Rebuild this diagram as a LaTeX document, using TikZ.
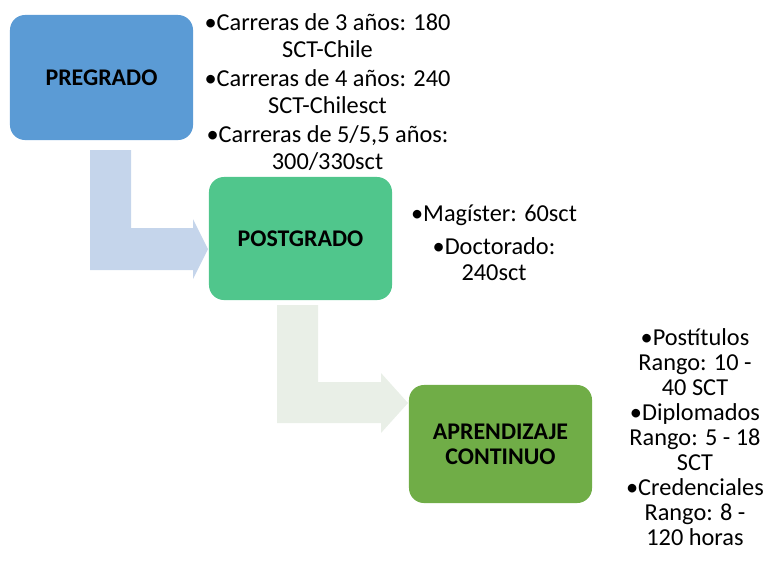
\documentclass[tikz,border=0pt]{standalone}
\usepackage{fontspec}
\setmainfont{Carlito}
\usepackage{tikz}
\definecolor{pregradoblue}{RGB}{91,155,213}
\definecolor{postgradogreen}{RGB}{80,198,140}
\definecolor{continuogreen}{RGB}{112,173,71}
\definecolor{arrowblue}{RGB}{197,213,235}
\definecolor{arrowgrey}{RGB}{233,239,231}
\tikzstyle{level}=[rounded corners=0.375cm, minimum width=4.575cm, align=center, font=\fontsize{17}{17.8}\selectfont\bfseries]
\tikzstyle{credits}=[align=center, inner sep=0pt, font=\fontsize{17.3}{18.8}\selectfont]

\begin{document}
\begin{tikzpicture}[x=0.025cm, y=-0.025cm]
        \useasboundingbox (0, 0) rectangle (765, 562);
        \node[level, fill=pregradoblue, minimum height=3.125cm] (pre) at (101.5, 77.5) {PREGRADO};
        \node[level, fill=postgradogreen, minimum height=3.075cm] (post) at (300.5, 238.5) {POSTGRADO};
        \node[level, fill=continuogreen, minimum height=2.95cm] (cont) at (500.5, 444) {APRENDIZAJE\\CONTINUO};
        \fill[arrowblue] (90, 150) -- (131, 150) -- (131, 228) -- (193, 228) -- (193, 219)
            -- (208, 249) -- (193, 279) -- (193, 270) -- (90, 270) -- cycle;
        \fill[arrowgrey] (277, 305) -- (318, 305) -- (318, 382) -- (381, 382) -- (381, 373)
            -- (408, 403) -- (381, 433) -- (381, 423) -- (277, 423) -- cycle;
        \node[credits] (preTxt) at (327.5, 92) {\textbullet Carreras de 3 años: 180\\SCT-Chile\\[2.2pt]
            \textbullet Carreras de 4 años: 240\\SCT-Chilesct\\[2.2pt]
            \textbullet Carreras de 5/5,5 años:\\300/330sct};
        \node[credits] (postTxt) at (494, 243) {\textbullet Magíster: 60sct\\[4pt]
            \textbullet Doctorado:\\240sct};
        \node[credits, font=\fontsize{17.3}{17.8}\selectfont] (contTxt) at (695, 437) {\textbullet Postítulos\\Rango: 10 -\\40 SCT\\
            \textbullet Diplomados\\Rango: 5 - 18\\SCT\\
            \textbullet Credenciales\\Rango: 8 -\\120 horas};
    \end{tikzpicture}
\end{document}
